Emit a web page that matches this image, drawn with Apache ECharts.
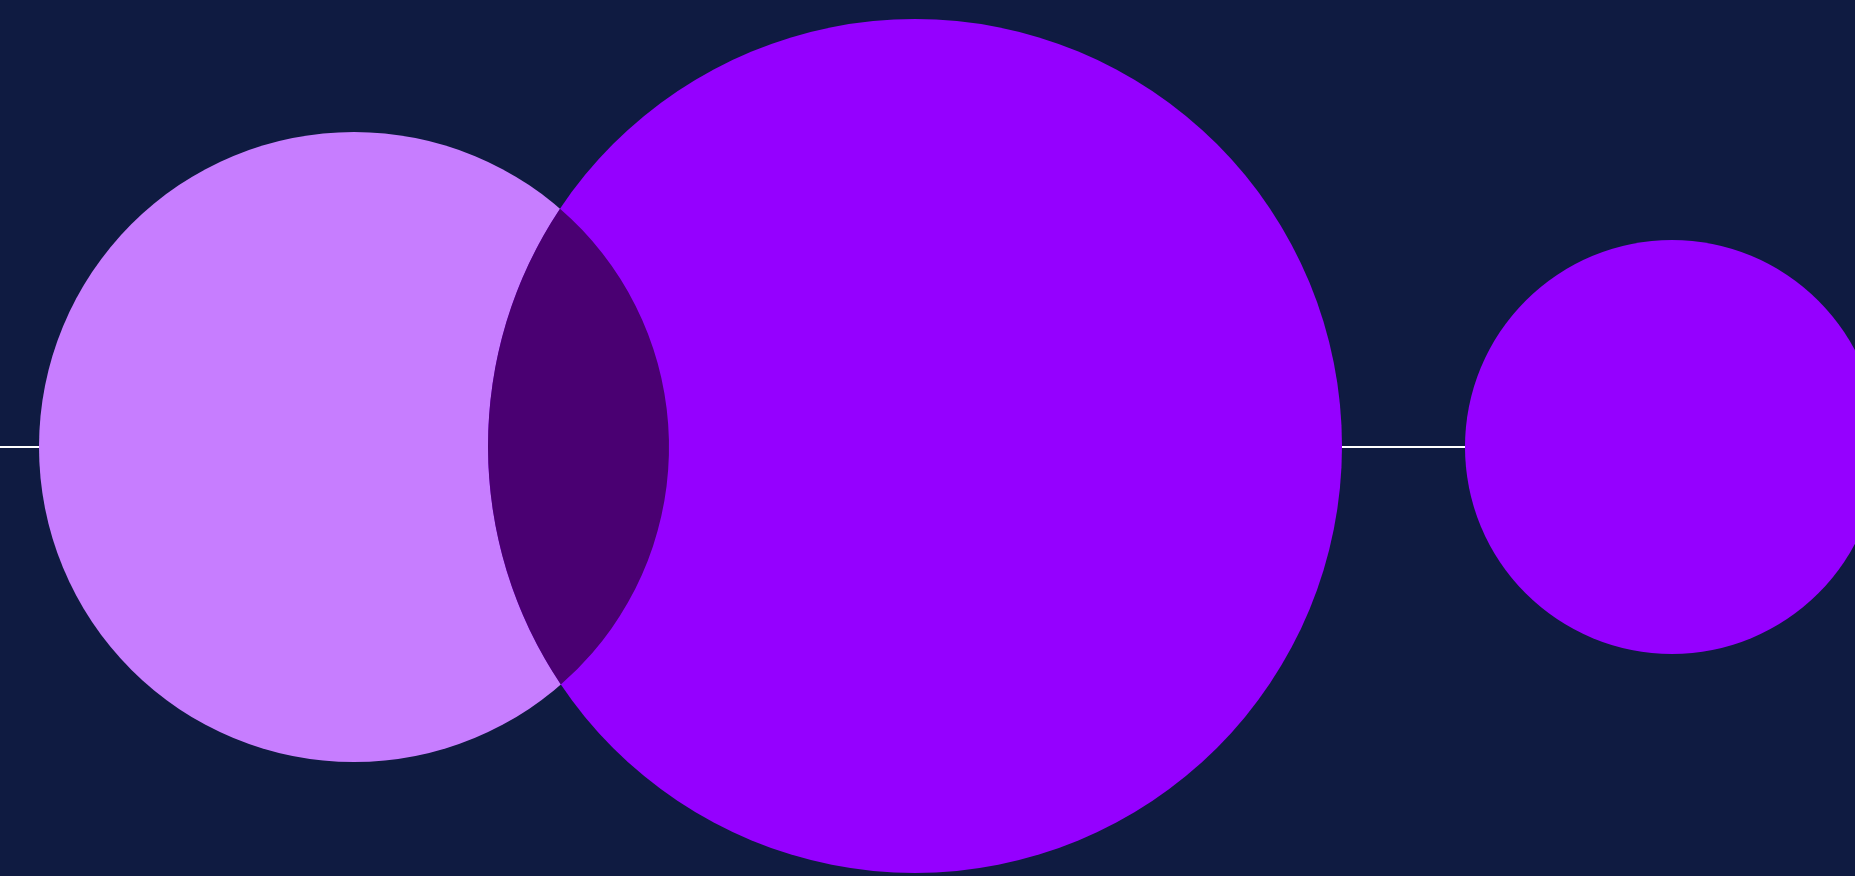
<!DOCTYPE html>
<html>
<head>
<meta charset="utf-8">
<script src="https://cdn.jsdelivr.net/npm/echarts@6/dist/echarts.min.js"></script>
<style>
  html, body { margin: 0; padding: 0; background: #0f1b41; }
  #main { width: 1855px; height: 876px; }
</style>
</head>
<body>
<div id="main"></div>
<script>
// circles: centre x, centre y, radius (in axis units)
const circleX = [354, 915, 1672];
const circleY = [447, 446, 447];
const circleR = [315, 427, 207];
// horizontal baseline
const baseX = [0, 1855];
const baseY = 447;

const circleColors = ['#c77dff', '#9500ff', '#9500ff'];
const overlapColor = '#4a0072';

const chart = echarts.init(document.getElementById('main'));

const circleData = circleX.map((x, i) => [x, circleY[i], circleR[i]]);

// lens shaped overlap of the first two circles
function renderOverlap(params, api) {
  const a = api.coord([circleX[0], circleY[0]]);
  const b = api.coord([circleX[1], circleY[1]]);
  const r1 = api.size([circleR[0], circleR[0]])[0];
  const r2 = api.size([circleR[1], circleR[1]])[0];
  const dx = b[0] - a[0], dy = b[1] - a[1];
  const d = Math.sqrt(dx * dx + dy * dy);
  const t = (d * d + r1 * r1 - r2 * r2) / (2 * d);
  const h = Math.sqrt(r1 * r1 - t * t);
  const mx = a[0] + dx * t / d, my = a[1] + dy * t / d;
  const p1 = [mx + dy * h / d, my - dx * h / d];
  const p2 = [mx - dy * h / d, my + dx * h / d];
  const top = p1[1] < p2[1] ? p1 : p2;
  const bot = p1[1] < p2[1] ? p2 : p1;
  const path = 'M' + top[0] + ' ' + top[1] +
    ' A' + r1 + ' ' + r1 + ' 0 0 1 ' + bot[0] + ' ' + bot[1] +
    ' A' + r2 + ' ' + r2 + ' 0 0 1 ' + top[0] + ' ' + top[1] + ' Z';
  return {
    type: 'path',
    shape: { pathData: path },
    style: { fill: overlapColor }
  };
}

const option = {
  backgroundColor: '#0f1b41',
  animation: false,
  grid: { left: 0, right: 0, top: 0, bottom: 0 },
  xAxis: { type: 'value', min: 0, max: 1855, show: false },
  yAxis: { type: 'value', min: 0, max: 876, inverse: true, show: false },
  series: [
    {
      type: 'line',
      data: baseX.map(x => [x, baseY]),
      symbol: 'none',
      lineStyle: { color: '#ffffff', width: 2 },
      z: 1
    },
    {
      type: 'custom',
      data: circleData,
      z: 2,
      renderItem: function(params, api) {
        const c = api.coord([api.value(0), api.value(1)]);
        const r = api.size([api.value(2), api.value(2)])[0];
        return {
          type: 'circle',
          shape: { cx: c[0], cy: c[1], r: r },
          style: { fill: circleColors[params.dataIndex] }
        };
      }
    },
    {
      type: 'custom',
      data: [[circleX[0], circleY[0]]],
      z: 3,
      renderItem: renderOverlap
    }
  ]
};

chart.setOption(option);
</script>
</body>
</html>
